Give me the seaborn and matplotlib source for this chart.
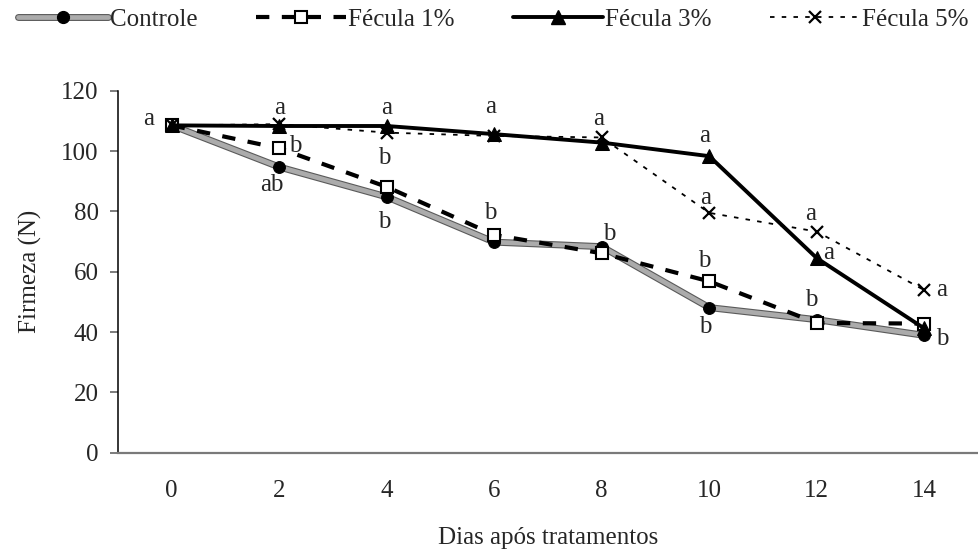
import matplotlib
matplotlib.use("Agg")
import matplotlib.pyplot as plt
import matplotlib.patheffects as pe
from matplotlib.lines import Line2D
from matplotlib.legend_handler import HandlerTuple
import seaborn as sns
import pandas as pd

# Firmness (N) of fruit over days after treatment
days = [0, 2, 4, 6, 8, 10, 12, 14]
controle = [108.5, 94.7, 84.8, 69.8, 68.3, 48.1, 44.1, 38.9]
fecula1 = [108.5, 100.9, 88.1, 72.2, 66.1, 56.8, 43.0, 42.8]
fecula3 = [108.5, 108.3, 108.3, 105.6, 102.8, 98.3, 64.5, 41.2]
fecula5 = [108.5, 108.9, 106.1, 105.0, 104.5, 79.5, 73.3, 53.9]

# Significance letters per series ('' = no letter shown)
letras_controle = ["", "ab", "b", "", "b", "b", "b", "b"]
letras_fecula1 = ["", "b", "", "b", "", "b", "", ""]
letras_fecula3 = ["a", "a", "a", "a", "a", "a", "a", ""]
letras_fecula5 = ["", "", "b", "", "", "a", "a", "a"]

series_names = ["Controle", "Fécula 1%", "Fécula 3%", "Fécula 5%"]

sns.set_style("white")
plt.rcParams["font.family"] = ["Liberation Serif", "DejaVu Serif"]

FS = 18

fig = plt.figure(figsize=(9.79, 5.52), dpi=100)
ax = fig.add_axes([118 / 979, 1 - 452.7 / 552, 860 / 979, 362 / 552])

pos = list(range(len(days)))
df = pd.DataFrame({"pos": pos, "Controle": controle, "Fécula 1%": fecula1,
                   "Fécula 3%": fecula3, "Fécula 5%": fecula5})

ctrl_fx = [pe.Stroke(linewidth=5.0, foreground="#5a5a5a"), pe.Normal()]
ctrl_line = dict(color="#ababab", lw=3.4, path_effects=ctrl_fx, zorder=2)
ctrl_mark = dict(linestyle="", marker="o", markersize=8.5, color="black",
                 markerfacecolor="black", markeredgecolor="black", zorder=2.5)
styles = {
    "Fécula 1%": dict(color="black", lw=3.0, linestyle=(0, (3.2, 3.0)),
                      marker="s", markersize=8, markerfacecolor="white",
                      markeredgecolor="black", markeredgewidth=1.5, zorder=3),
    "Fécula 5%": dict(color="black", lw=1.3, linestyle=(0, (2.5, 4.0)),
                      marker="x", markersize=9, markeredgewidth=1.6,
                      markeredgecolor="black", zorder=4),
    "Fécula 3%": dict(color="black", lw=2.8, marker="^", markersize=10,
                      markerfacecolor="black", markeredgecolor="black", zorder=5),
}

# control: textured grey line, then solid black dots on top
sns.lineplot(data=df, x="pos", y="Controle", ax=ax, **ctrl_line)
sns.lineplot(data=df, x="pos", y="Controle", ax=ax, **ctrl_mark)
for name in ["Fécula 1%", "Fécula 5%", "Fécula 3%"]:
    sns.lineplot(data=df, x="pos", y=name, ax=ax, **styles[name])

# letters next to the points (offsets in pixels)
letter_sets = [
    (controle, letras_controle, {1: (-7, -18), 2: (-2, -25), 4: (8, 13), 5: (-4, -19),
                                 6: (-5, 20), 7: (18, -4)}),
    (fecula1, letras_fecula1, {1: (16, 2), 3: (-4, 22), 5: (-5, 20)}),
    (fecula3, letras_fecula3, {0: (-23, 6), 1: (0, 18), 2: (0, 18), 3: (-4, 27),
                               4: (-3, 24), 5: (-5, 20), 6: (12, 5)}),
    (fecula5, letras_fecula5, {2: (-2, -25), 5: (-4, 15), 6: (-6, 18), 7: (17, 0)}),
]
for vals, letters, offs in letter_sets:
    for i, lt in enumerate(letters):
        if lt:
            dx, dy = offs.get(i, (0, 15))
            ax.annotate(lt, (pos[i], vals[i]), xytext=(dx, dy),
                        textcoords="offset pixels", ha="center", va="center",
                        fontsize=FS, zorder=6)

# axes styling
ax.set_xlim(-0.5, len(days) - 0.5)
ax.set_ylim(0, 120)
ax.set_yticks([0, 20, 40, 60, 80, 100, 120])
ax.set_xticks(pos)
ax.set_xticklabels([str(d) for d in days])
ax.set_xticks([p - 0.5 for p in pos] + [pos[-1] + 0.5], minor=True)
ax.tick_params(axis="x", which="major", length=0, pad=20, labelsize=FS)
ax.tick_params(axis="x", which="minor", length=6, width=1.2, color="#666666",
               direction="out")
ax.tick_params(axis="y", which="major", length=6, width=1.2, color="#666666",
               direction="out", pad=8, labelsize=FS, left=True)
for s in ["top", "right"]:
    ax.spines[s].set_visible(False)
ax.spines["left"].set_color("black")
ax.spines["left"].set_linewidth(1.1)
ax.spines["bottom"].set_color("#7a7a7a")
ax.spines["bottom"].set_linewidth(1.6)

ax.set_xlabel("Dias após tratamentos", fontsize=FS)
ax.set_ylabel("Firmeza (N)", fontsize=FS)
ax.xaxis.set_label_coords(0.5, -0.205)
ax.yaxis.set_label_coords(-0.088, 0.5)

# legend across the top
def proxy(st):
    st = dict(st)
    st.pop("zorder", None)
    return Line2D([0], [0], **st)

handles = [(proxy(ctrl_line), proxy(ctrl_mark))]
handles += [proxy(styles[n]) for n in series_names[1:]]
if ax.get_legend() is not None:
    ax.get_legend().remove()
fig.legend(handles, series_names, loc="center", ncol=4, mode="expand",
           bbox_to_anchor=(0.008, 0.935, 0.992, 0.06), frameon=False,
           fontsize=FS, handlelength=3.6, handletextpad=0.1, borderaxespad=0,
           numpoints=1, handler_map={tuple: HandlerTuple(ndivide=1)})

fig.savefig("out.png", dpi=100)
